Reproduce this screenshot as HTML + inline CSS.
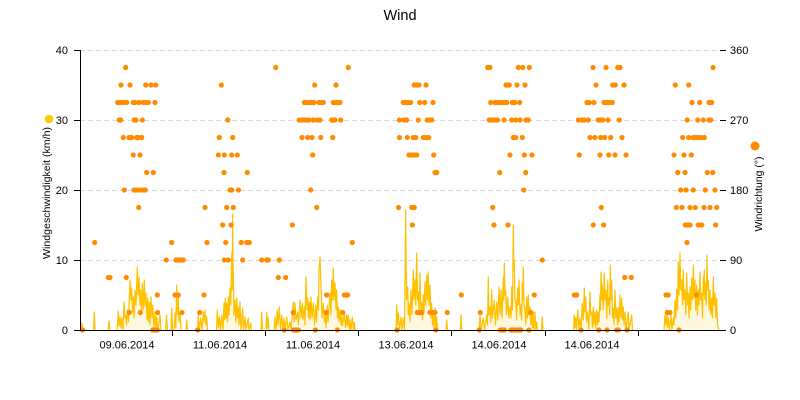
<!DOCTYPE html>
<html><head><meta charset="utf-8"><style>
html,body{margin:0;padding:0;background:#fff;}
svg{display:block;font-family:"Liberation Sans",sans-serif;}
</style></head><body>
<svg width="800" height="400" viewBox="0 0 800 400" xmlns="http://www.w3.org/2000/svg">
<rect width="800" height="400" fill="#fff"/>
<text x="400" y="20" text-anchor="middle" font-size="14.5" fill="#000">Wind</text>
<g stroke="#d9d9d9" stroke-width="1" stroke-dasharray="5,3">
<line x1="80" y1="50.5" x2="720" y2="50.5"/>
<line x1="80" y1="120.5" x2="720" y2="120.5"/>
<line x1="80" y1="190.5" x2="720" y2="190.5"/>
<line x1="80" y1="260.5" x2="720" y2="260.5"/>
</g>
<path fill="rgba(255,200,0,0.12)" stroke="#FFC000" stroke-width="1.2" stroke-linejoin="round" d="
M81,330 L82,323 L83,330
M93.5,330 L94.3,312 L95,330
M108,330 L109,321 L110,330
M117,330 L118.3,311 L119,326 L120,317 L121,328 L121.7,318 L123,330 L124,302 L125,318 L125.7,315 L126.5,325 L127.3,310 L128.5,322 L130,280 L131,300 L131.7,288 L132.5,312 L133.3,297 L134,318 L135,290 L136,305 L137.3,267 L138,295 L139,277 L140,305 L140.7,290 L141.5,312 L142.3,283 L143.3,310 L144.3,280 L145,306 L146,293 L147,320 L147.7,298 L148.5,322 L149.3,302 L150,325 L151,297 L152,318 L152.7,305 L154,328 L155,312 L156,330 L156.7,317 L158,330 L160,315 L161,330
M165.5,330 L166.5,315 L167.5,330
M171,330 L171.7,308 L172.5,330
M174,330 L175,313 L175.8,328 L176.7,285 L177.5,315 L178.3,298 L179,322 L180,312 L181,330
M186,330 L186.7,320 L187.5,330
M197.5,330 L198.3,315 L199.5,330 L200.7,318 L202,330 L203.3,312 L204,322 L205,310 L206,325 L206.7,317 L207.5,330
M216.5,330 L217.3,310 L218.3,328 L219.3,317 L220.5,330 L221.7,315 L223,330 L224,303 L224.7,320 L225.3,298 L226,318 L226.7,303 L227.5,322 L228.3,297 L229,315 L230,288 L230.8,305 L231.7,253 L232.2,290 L232.7,214 L233,260 L233.3,273 L234,315 L235,300 L235.8,322 L236.7,298 L237.5,318 L238.3,307 L239,325 L240,302 L241,330 L242.7,308 L243.5,330 L245,317 L246,330 L248.3,318 L249,330 L250.7,323 L251.5,330
M261,330 L261.7,312 L262.5,330
M266,330 L266.7,312 L267.5,328 L268.3,318 L269,330
M274,330 L275,317 L276,330 L277.3,310 L278,325 L279.3,307 L280.5,330 L281.7,315 L283,330 L284,318 L285,330 L286.7,317 L288,330 L290,322 L291,330 L293.3,302 L294,322 L295,303 L296,320 L297.7,312 L298.5,325 L300,300 L301,318 L302.3,303 L303,320 L304.3,307 L305,325 L306,277 L307,310 L307.7,298 L308.5,318 L309.3,302 L310,320 L311,297 L312,318 L313.3,303 L314.5,325 L315.7,305 L316.5,322 L317.7,297 L318.5,310 L319,270 L320,257 L321,285 L322,318 L323.3,303 L324.5,322 L325,312 L326,328 L327.3,305 L328,322 L330,293 L331,315 L331.7,280 L332.5,300 L333.3,268 L334,300 L335,283 L336,310 L336.7,290 L337.5,318 L338.3,307 L339,322 L340,310 L341,325 L341.7,315 L342.5,326 L344.3,312 L345.5,328 L346.7,315 L347.5,326 L348.3,315 L349.5,330 L350,320 L351,330 L352.3,317 L353.5,330 L354.3,322 L355,330
M396,330 L396.7,305 L397.5,325 L398.3,313 L399.5,330 L401,317 L402,330 L403.3,318 L404.5,330 L405.7,210 L406.5,300 L407.7,287 L408.3,315 L409,303 L410,322 L411,290 L412,315 L413.3,270 L414,300 L415,280 L415.8,305 L416.7,253 L417.5,300 L418.3,292 L419,315 L420,273 L420.8,310 L421.7,303 L422.5,320 L423.3,295 L424,312 L425,282 L425.8,305 L426.7,275 L427.5,300 L428.3,272 L429,305 L430,285 L430.8,318 L431.7,303 L432.5,325 L433.3,315 L434,328 L435,308 L435.8,328 L436.7,317 L437.5,330
M446,330 L446.7,320 L447.5,330
M460.3,330 L461,315 L461.7,330
M479,330 L480,315 L481,330 L483.3,318 L484.5,330 L486.7,315 L487.5,325 L488.3,277 L489,315 L490,307 L490.8,322 L491.7,290 L492.5,318 L494.3,300 L495.5,325 L496.7,302 L497.8,320 L499,287 L500,315 L501,290 L502,318 L503.3,277 L503.8,300 L504.3,263 L505,295 L505.7,290 L506.5,315 L507.7,297 L508.8,318 L510,307 L511,318 L511.7,287 L512.5,310 L513.3,225 L513.8,270 L514.3,260 L515,300 L515.7,300 L516.5,320 L517.7,288 L518.3,305 L519,280 L520,315 L521,305 L521.7,320 L522.3,283 L522.8,300 L523.3,267 L524,305 L525,310 L525.8,325 L526.7,297 L527.5,318 L528.3,295 L529,315 L530,307 L530.8,325 L531.7,315 L532.5,328 L533.3,312 L534,330 L535,312 L535.8,330 L536.7,322 L537.5,330
M541.5,330 L542.3,317 L543,330
M573.5,330 L574.3,315 L575,328 L575.7,318 L576.5,330 L577.7,310 L578.8,328 L580,318 L581,330 L582.3,303 L583.3,320 L584.3,288 L585,312 L585.7,297 L586.5,322 L587.7,312 L588.8,330 L590,292 L590.8,315 L591.7,312 L592.5,328 L593.3,307 L594,325 L595,312 L595.8,328 L596.7,310 L597.5,325 L598.3,312 L599,322 L600,295 L600.5,310 L601,272 L601.7,300 L602.3,285 L603.2,310 L604.3,273 L605,300 L606,290 L606.8,318 L607.7,280 L608.3,305 L609,298 L609.7,315 L610.3,265 L611,300 L611.7,280 L612.5,318 L613.3,308 L614,325 L615,290 L615.8,318 L616.7,308 L617.5,325 L618.3,308 L619,322 L620,295 L620.8,318 L621.7,298 L622.5,320 L623.3,307 L624,325 L625,312 L626,330 L628.3,312 L629,330 L631.7,315 L632.5,330
M664,330 L665,315 L665.8,325 L666.7,310 L667.5,328 L668.3,318 L669.5,330 L671,315 L672,330 L673.3,318 L674,325 L675,300 L675.8,318 L676.7,290 L677.5,310 L678.3,262 L679,295 L680,253 L680.8,290 L681.7,280 L682.5,305 L683.3,270 L684,300 L685,290 L685.8,315 L686.7,273 L687.5,305 L688.3,293 L689,318 L690,287 L690.8,310 L691.7,278 L692.5,300 L693.3,265 L694,298 L695,280 L695.8,310 L696.7,285 L697.5,315 L698.3,290 L699,305 L700,272 L700.8,300 L701.7,293 L702.5,318 L703.3,277 L703.8,295 L704.3,270 L705,300 L705.7,283 L706.3,305 L707,255 L707.6,290 L708.3,280 L709,310 L710,290 L710.8,315 L711.7,298 L712.5,318 L713.3,277 L714,305 L715,293 L715.8,318 L716.7,298 L717.5,325 L718.3,328 L719,330"/>
<g fill="none" stroke="#FF8C00" stroke-width="5.2" stroke-linecap="round">
<path d="M125.7 67.5h0M275.7 67.5h0M348.3 67.5h0M487.7 67.5h0M490 67.5h0M518.3 67.5h0M522.7 67.5h0M529.3 67.5h0M593 67.5h0M606 67.5h0M617.7 67.5h0M620 67.5h0M713 67.5h0"/>
<path d="M121 85h0M130 85h0M145.7 85h0M151 85h0M155.7 85h0M221.3 85h0M314.7 85h0M336 85h0M414.3 85h0M416.7 85h0M419 85h0M426 85h0M506 85h0M507.7 85h0M509.3 85h0M517 85h0M525 85h0M596 85h0M612.7 85h0M615.3 85h0M624 85h0M675.3 85h0M688.7 85h0"/>
<path d="M117.7 102.5h0M120 102.5h0M123.3 102.5h0M126.7 102.5h0M133.3 102.5h0M135 102.5h0M139 102.5h0M143.3 102.5h0M145.7 102.5h0M148.3 102.5h0M155 102.5h0M304.3 102.5h0M306.7 102.5h0M310 102.5h0M311.7 102.5h0M314 102.5h0M319 102.5h0M321.7 102.5h0M323.3 102.5h0M333.3 102.5h0M336 102.5h0M337.7 102.5h0M340 102.5h0M403.3 102.5h0M405.7 102.5h0M408.3 102.5h0M410.7 102.5h0M419.7 102.5h0M424.7 102.5h0M433 102.5h0M490.7 102.5h0M495 102.5h0M496.7 102.5h0M499.3 102.5h0M501.7 102.5h0M504.3 102.5h0M506.7 102.5h0M512.3 102.5h0M514.7 102.5h0M519.7 102.5h0M587 102.5h0M589.3 102.5h0M594 102.5h0M604 102.5h0M606.7 102.5h0M609.3 102.5h0M612.3 102.5h0M692 102.5h0M699.7 102.5h0M709 102.5h0M711.7 102.5h0"/>
<path d="M119.3 120h0M120.7 120h0M134.3 120h0M136 120h0M142.3 120h0M227.7 120h0M299.3 120h0M301.7 120h0M304 120h0M306.7 120h0M309 120h0M313.3 120h0M317.3 120h0M320 120h0M331.7 120h0M333.3 120h0M335 120h0M340.7 120h0M399.5 120h0M404 120h0M406.7 120h0M418.3 120h0M427.3 120h0M429.3 120h0M431.7 120h0M489.3 120h0M491.7 120h0M494.3 120h0M497.7 120h0M504 120h0M511.7 120h0M515.7 120h0M520 120h0M526 120h0M528.3 120h0M578.3 120h0M581.7 120h0M584.3 120h0M588.3 120h0M598.3 120h0M600 120h0M602.7 120h0M608 120h0M619.3 120h0M687.3 120h0M697.7 120h0M703.3 120h0M709 120h0M710.7 120h0"/>
<path d="M123.3 137.5h0M129 137.5h0M130 137.5h0M131.7 137.5h0M136.7 137.5h0M138.3 137.5h0M141.7 137.5h0M219.3 137.5h0M232.7 137.5h0M302 137.5h0M307.7 137.5h0M312 137.5h0M320.7 137.5h0M332.7 137.5h0M399.5 137.5h0M407.3 137.5h0M413.3 137.5h0M415.7 137.5h0M423.3 137.5h0M426 137.5h0M428.7 137.5h0M513.3 137.5h0M515.7 137.5h0M522.3 137.5h0M590 137.5h0M595 137.5h0M600.7 137.5h0M604.7 137.5h0M610.7 137.5h0M622 137.5h0M682.7 137.5h0M688.7 137.5h0M693.3 137.5h0M696 137.5h0M698.3 137.5h0M701 137.5h0M704.3 137.5h0"/>
<path d="M133.3 155h0M140 155h0M218.3 155h0M224.3 155h0M231.7 155h0M237.3 155h0M312.7 155h0M409 155h0M411.7 155h0M414.3 155h0M416.7 155h0M433.7 155h0M510 155h0M524.3 155h0M532 155h0M579.3 155h0M600 155h0M608.7 155h0M615 155h0M626 155h0M674 155h0M684 155h0M691.3 155h0"/>
<path d="M146.7 172.5h0M153.3 172.5h0M224 172.5h0M247.3 172.5h0M435 172.5h0M436.7 172.5h0M499.7 172.5h0M525.7 172.5h0M677.7 172.5h0M685 172.5h0M707.3 172.5h0M712.7 172.5h0"/>
<path d="M124.3 190h0M134 190h0M136.7 190h0M139.3 190h0M142.7 190h0M145.3 190h0M230 190h0M231.7 190h0M238.5 190h0M310.7 190h0M523.7 190h0M680.7 190h0M686 190h0M693.3 190h0M705.3 190h0M715 190h0"/>
<path d="M138.7 207.5h0M205 207.5h0M226.7 207.5h0M233.3 207.5h0M316.7 207.5h0M398.5 207.5h0M411.7 207.5h0M414.3 207.5h0M492.7 207.5h0M601.3 207.5h0M676.3 207.5h0M682 207.5h0M690 207.5h0M695.3 207.5h0M704 207.5h0M710 207.5h0M716.7 207.5h0"/>
<path d="M222.7 225h0M231 225h0M292.3 225h0M412.3 225h0M494 225h0M508 225h0M593.3 225h0M603.7 225h0M685.3 225h0M687.7 225h0M690 225h0M698.3 225h0M701.7 225h0M715.7 225h0"/>
<path d="M94.7 242.5h0M171.7 242.5h0M207 242.5h0M225.7 242.5h0M241.2 242.5h0M246.7 242.5h0M249.3 242.5h0M352.3 242.5h0M687 242.5h0"/>
<path d="M166.3 260h0M176 260h0M178.3 260h0M181 260h0M183.3 260h0M224.3 260h0M228.3 260h0M242.7 260h0M261.7 260h0M266.7 260h0M268.3 260h0M279.3 260h0M542.3 260h0"/>
<path d="M108.3 277.5h0M110 277.5h0M126.3 277.5h0M278.3 277.5h0M285.7 277.5h0M624.7 277.5h0M631.3 277.5h0"/>
<path d="M157.3 295h0M175 295h0M178.3 295h0M204 295h0M326.7 295h0M344.3 295h0M346 295h0M347.7 295h0M461.3 295h0M534.3 295h0M574.3 295h0M576.7 295h0M666 295h0M668.3 295h0M696.7 295h0"/>
<path d="M129.3 312.5h0M140.3 312.5h0M157.7 312.5h0M182 312.5h0M199.7 312.5h0M293.3 312.5h0M326 312.5h0M342.7 312.5h0M417.3 312.5h0M420 312.5h0M421.7 312.5h0M430 312.5h0M432.7 312.5h0M435 312.5h0M447.3 312.5h0M480.3 312.5h0M530.7 312.5h0M667.3 312.5h0M670 312.5h0"/>
<path d="M82.7 330h0M152.7 330h0M155 330h0M157.3 330h0M197.7 330h0M284.3 330h0M293.3 330h0M295 330h0M296.7 330h0M298.3 330h0M315.3 330h0M337.3 330h0M397 330h0M435.7 330h0M479.3 330h0M500.3 330h0M502.3 330h0M504.3 330h0M510.7 330h0M513.3 330h0M516 330h0M518.7 330h0M520.7 330h0M529 330h0M581 330h0M598.7 330h0M607 330h0M616.7 330h0M618.3 330h0M627 330h0M679 330h0"/>
</g>
<g stroke="#000" stroke-width="1" fill="none">
<line x1="80.5" y1="50" x2="80.5" y2="331"/>
<line x1="80" y1="330.5" x2="726" y2="330.5"/>
<line x1="74" y1="50.5" x2="80" y2="50.5"/>
<line x1="74" y1="120.5" x2="80" y2="120.5"/>
<line x1="74" y1="190.5" x2="80" y2="190.5"/>
<line x1="74" y1="260.5" x2="80" y2="260.5"/>
<line x1="74" y1="330.5" x2="80" y2="330.5"/>
<line x1="720" y1="50.5" x2="726" y2="50.5"/>
<line x1="720" y1="120.5" x2="726" y2="120.5"/>
<line x1="720" y1="190.5" x2="726" y2="190.5"/>
<line x1="720" y1="260.5" x2="726" y2="260.5"/>
<line x1="172.5" y1="330" x2="172.5" y2="336"/>
<line x1="265.5" y1="330" x2="265.5" y2="336"/>
<line x1="358.5" y1="330" x2="358.5" y2="336"/>
<line x1="451.5" y1="330" x2="451.5" y2="336"/>
<line x1="545.5" y1="330" x2="545.5" y2="336"/>
<line x1="638.5" y1="330" x2="638.5" y2="336"/>
</g>
<g font-size="11" fill="#000">
<text x="68" y="54" text-anchor="end">40</text>
<text x="68" y="124" text-anchor="end">30</text>
<text x="68" y="194" text-anchor="end">20</text>
<text x="68" y="264" text-anchor="end">10</text>
<text x="68" y="334" text-anchor="end">0</text>
<text x="730" y="54">360</text>
<text x="730" y="124">270</text>
<text x="730" y="194">180</text>
<text x="730" y="264">90</text>
<text x="730" y="334">0</text>
<text x="127" y="348.5" text-anchor="middle">09.06.2014</text>
<text x="220" y="348.5" text-anchor="middle">11.06.2014</text>
<text x="313" y="348.5" text-anchor="middle">11.06.2014</text>
<text x="406" y="348.5" text-anchor="middle">13.06.2014</text>
<text x="499" y="348.5" text-anchor="middle">14.06.2014</text>
<text x="592" y="348.5" text-anchor="middle">14.06.2014</text>
</g>
<circle cx="49" cy="119" r="4.3" fill="#FFCC00"/>
<text transform="translate(50,193) rotate(-90)" text-anchor="middle" font-size="10.5" textLength="132" lengthAdjust="spacingAndGlyphs" fill="#000">Windgeschwindigkeit (km/h)</text>
<circle cx="755" cy="146" r="4.5" fill="#FF8C00"/>
<text transform="translate(762,194) rotate(-90)" text-anchor="middle" font-size="10.5" textLength="75" lengthAdjust="spacingAndGlyphs" fill="#000">Windrichtung (°)</text>
</svg>
</body></html>
